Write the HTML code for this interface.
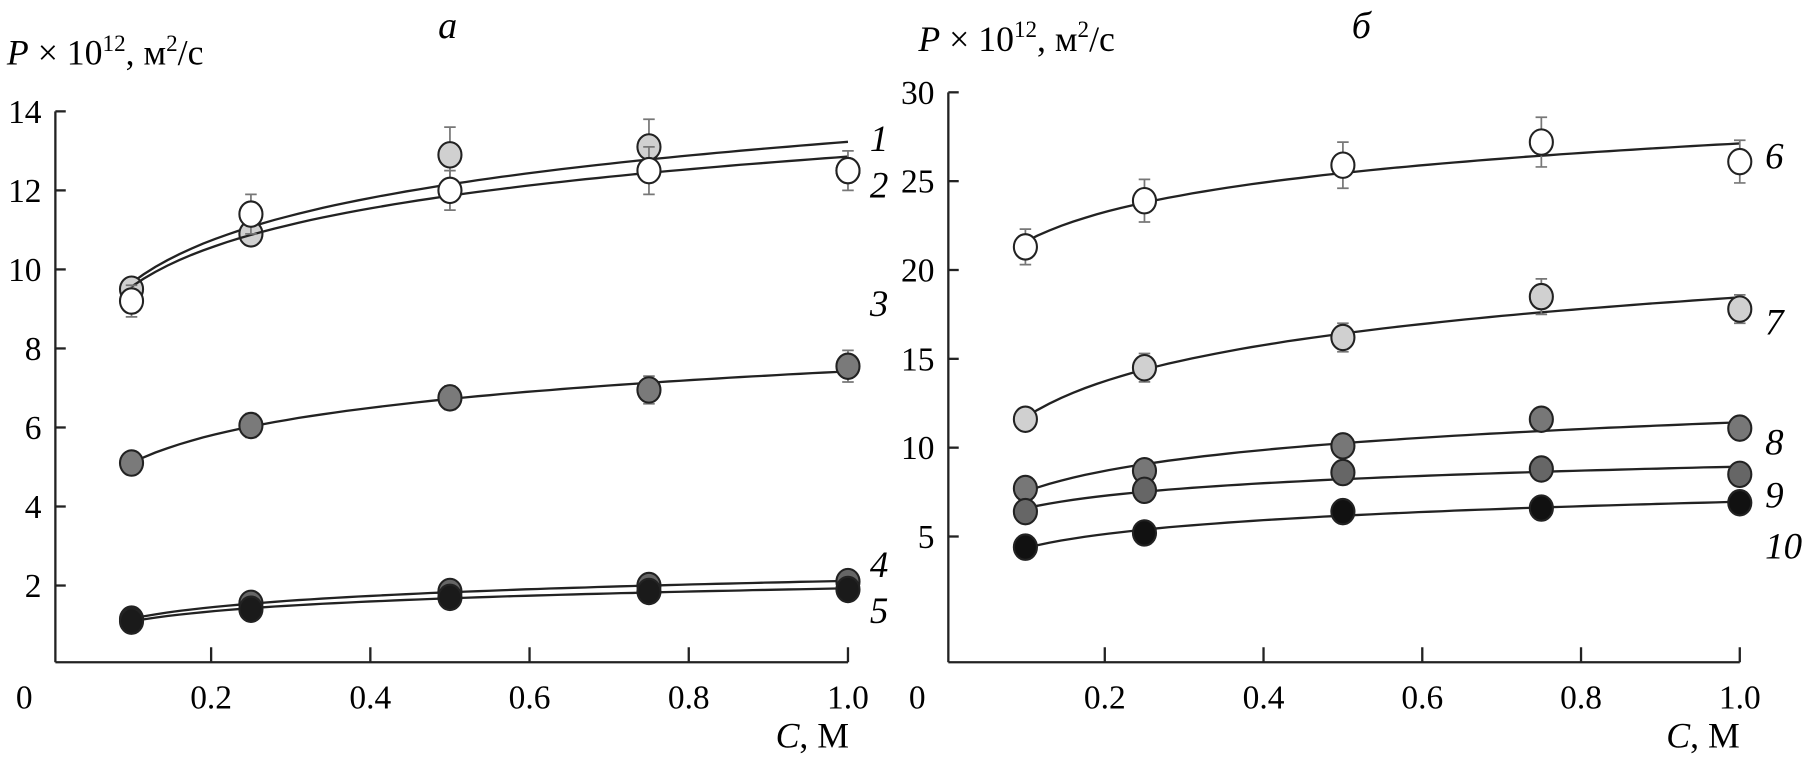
<!DOCTYPE html>
<html><head><meta charset="utf-8"><style>
body{margin:0;background:#fff}
svg{display:block;font-family:"Liberation Serif",serif}
</style></head><body>
<svg width="1809" height="769" viewBox="0 0 1568 666.5">
<g id="gA"></g>
<g id="gB"></g>
<text x="6" y="56" font-size="31"><tspan font-style="italic">P</tspan> × 10<tspan dy="-12" font-size="20">12</tspan><tspan dy="12">, м</tspan><tspan dy="-12" font-size="20">2</tspan><tspan dy="12">/с</tspan></text>
<text x="796" y="44" font-size="31"><tspan font-style="italic">P</tspan> × 10<tspan dy="-12" font-size="20">12</tspan><tspan dy="12">, м</tspan><tspan dy="-12" font-size="20">2</tspan><tspan dy="12">/с</tspan></text>
<text x="388" y="33" font-size="33" font-style="italic" text-anchor="middle">a</text>
<text x="1180" y="33" font-size="33" font-style="italic" text-anchor="middle">б</text>
<text x="736" y="648" font-size="31" text-anchor="end"><tspan font-style="italic">C</tspan>, М</text>
<text x="1508" y="648" font-size="31" text-anchor="end"><tspan font-style="italic">C</tspan>, М</text>
</svg>
<script>
const conc = [0.1, 0.25, 0.5, 0.75, 1.0];
const s1 = [9.5, 10.9, 12.9, 13.1, 12.5];
const s2 = [9.2, 11.4, 12.0, 12.5, 12.5];
const s3 = [5.1, 6.05, 6.75, 6.95, 7.55];
const s4 = [1.15, 1.55, 1.85, 2.0, 2.1];
const s5 = [1.1, 1.4, 1.7, 1.85, 1.9];
const s6 = [21.3, 23.9, 25.9, 27.2, 26.1];
const s7 = [11.6, 14.5, 16.2, 18.5, 17.8];
const s8 = [7.7, 8.7, 10.1, 11.6, 11.1];
const s9 = [6.4, 7.6, 8.6, 8.8, 8.5];
const s10 = [4.4, 5.2, 6.4, 6.6, 6.9];
const err1 = [0, 0, 0.7, 0.7, 0];
const err2 = [0.4, 0.5, 0.5, 0.6, 0.5];
const err3 = [0, 0.3, 0.3, 0.35, 0.4];
const err6 = [1.0, 1.2, 1.3, 1.4, 1.2];
const err7 = [0.5, 0.8, 0.8, 1.0, 0.8];
const xTicks = [0.2, 0.4, 0.6, 0.8, 1.0];
const yTicksA = [2, 4, 6, 8, 10, 12, 14];
const yTicksB = [5, 10, 15, 20, 25, 30];
const NS = "http://www.w3.org/2000/svg";
function mk(p, t, a){const e=document.createElementNS(NS,t);for(const k in a)e.setAttribute(k,a[k]);p.appendChild(e);return e;}
function fit(ys){const n=conc.length;let sx=0,sy=0,sxx=0,sxy=0;conc.forEach((c,i)=>{const l=Math.log(c);sx+=l;sy+=ys[i];sxx+=l*l;sxy+=l*ys[i];});const b=(n*sxy-sx*sy)/(n*sxx-sx*sx);return [(sy-b*sx)/n,b];}
function panel(g, X, Y, yTicks, x0, axisBottom, series){
  const yAxis = mk(g,'line',{x1:x0,y1:Y(yTicks[yTicks.length-1]),x2:x0,y2:axisBottom,stroke:'#222','stroke-width':2});
  
  
  const xAxis = mk(g,'line',{x1:x0,y1:axisBottom,x2:X(1.0),y2:axisBottom,stroke:'#222','stroke-width':2});
  
  
  yTicks.forEach(v=>{
    const t=mk(g,'line',{x1:x0,y1:Y(v),x2:x0+9,y2:Y(v),stroke:'#222','stroke-width':2});
    
    
    const l=mk(g,'text',{x:x0-12,y:Y(v)+10,'text-anchor':'end','font-size':29});
    l.textContent=v;
    
    
  });
  xTicks.forEach(v=>{
    const t=mk(g,'line',{x1:X(v),y1:axisBottom,x2:X(v),y2:axisBottom-13,stroke:'#222','stroke-width':2});
    
    
    const l=mk(g,'text',{x:X(v),y:axisBottom+40,'text-anchor':'middle','font-size':29});
    l.textContent=v.toFixed(1);
    
    
  });
  const z=mk(g,'text',{x:x0-27,y:axisBottom+40,'text-anchor':'middle','font-size':29});
  z.textContent='0';
  
  
  series.forEach(s=>{
    const [a,b]=fit(s.v);
    let d='';
    for(let i=0;i<=60;i++){const c=0.1+0.9*i/60;d+=(i?'L':'M')+X(c).toFixed(1)+','+Y(a+b*Math.log(c)).toFixed(1);}
    const p=mk(g,'path',{d:d,fill:'none',stroke:'#222','stroke-width':2});
    
    
    if(s.e) s.v.forEach((v,i)=>{ if(!s.e[i]) return;
      const eb=mk(g,'path',{d:`M${X(conc[i])},${Y(v+s.e[i])}V${Y(v-s.e[i])}M${X(conc[i])-5},${Y(v+s.e[i])}h10M${X(conc[i])-5},${Y(v-s.e[i])}h10`,stroke:'#777','stroke-width':1.5,fill:'none'});
      
      
    });
    s.v.forEach((v,i)=>{
      const c=mk(g,'ellipse',{cx:X(conc[i]),cy:Y(v),rx:10,ry:11,fill:s.f,stroke:'#222','stroke-width':1.8});
      
      
    });
    const lb=mk(g,'text',{x:s.lx,y:s.ly,'font-size':32,'font-style':'italic'});
    lb.textContent=s.n;
    
    
  });
}
const XA=v=>45+v*690, YA=v=>576-v*34.25;
panel(document.getElementById('gA'),XA,YA,yTicksA,48,574,[
 {n:'1',v:s1,e:err1,f:'#d0d0d0',lx:754,ly:131},
 {n:'2',v:s2,e:err2,f:'#fff',lx:754,ly:171},
 {n:'3',v:s3,e:err3,f:'#7a7a7a',lx:754,ly:274},
 {n:'4',v:s4,f:'#666',lx:754,ly:500},
 {n:'5',v:s5,f:'#1a1a1a',lx:754,ly:540}]);
const XB=v=>820+v*688, YB=v=>542-v*15.4;
panel(document.getElementById('gB'),XB,YB,yTicksB,822,574,[
 {n:'6',v:s6,e:err6,f:'#fff',lx:1530,ly:146},
 {n:'7',v:s7,e:err7,f:'#d0d0d0',lx:1530,ly:290},
 {n:'8',v:s8,f:'#777',lx:1530,ly:394},
 {n:'9',v:s9,f:'#666',lx:1530,ly:440},
 {n:'10',v:s10,f:'#111',lx:1530,ly:484}]);
</script>
</body></html>
